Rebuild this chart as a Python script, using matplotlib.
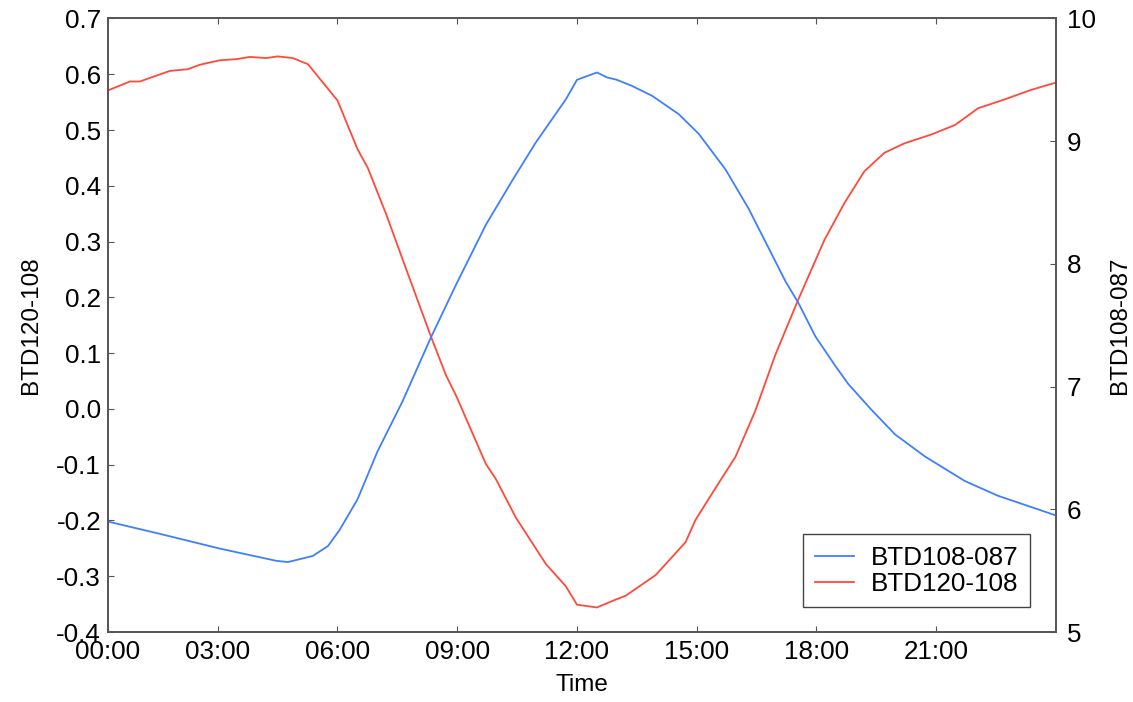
import matplotlib
matplotlib.use("Agg")
import matplotlib.pyplot as plt
import numpy as np

plt.rcParams['font.family'] = ['Liberation Sans', 'DejaVu Sans']

# BTD108-087 (right axis): time in hours since midnight, value
hours_blue = [0.25, 1.55, 3.05, 4.47, 4.76, 5.38, 5.76, 6.05, 6.5, 7.0, 7.63,
              8.34, 8.97, 9.72, 10.38, 10.97, 11.72, 12.0, 12.5, 12.75, 13.0,
              13.38, 13.88, 14.55, 15.05, 15.72, 16.3, 16.8, 17.22, 17.55,
              17.97, 18.47, 18.8, 19.38, 19.97, 20.72, 21.72, 22.55, 24.0]
btd108_087 = [5.90, 5.80, 5.68, 5.58, 5.57, 5.62, 5.70, 5.83, 6.08, 6.47, 6.88,
              7.40, 7.83, 8.32, 8.68, 8.99, 9.34, 9.50, 9.56, 9.52, 9.50,
              9.45, 9.37, 9.22, 9.06, 8.77, 8.45, 8.13, 7.86, 7.68,
              7.41, 7.17, 7.02, 6.81, 6.61, 6.43, 6.23, 6.11, 5.95]

# BTD120-108 (left axis)
hours_red = [0.25, 0.8, 1.05, 1.8, 2.25, 2.55, 3.05, 3.47, 3.8, 4.22, 4.5,
             4.88, 5.26, 6.0, 6.5, 6.76, 7.22, 7.76, 8.34, 8.72, 8.97, 9.72,
             9.97, 10.47, 11.22, 11.72, 12.0, 12.5, 13.0, 13.22, 13.97, 14.72,
             14.97, 15.47, 15.97, 16.47, 16.97, 17.55, 18.2, 18.7, 19.2, 19.7,
             20.2, 20.88, 21.47, 22.05, 22.72, 23.38, 24.0]
btd120_108 = [0.571, 0.587, 0.587, 0.606, 0.609, 0.617, 0.625, 0.627, 0.631,
              0.629, 0.632, 0.629, 0.618, 0.553, 0.466, 0.432, 0.349, 0.243,
              0.130, 0.060, 0.024, -0.099, -0.126, -0.195, -0.278, -0.318,
              -0.351, -0.356, -0.341, -0.335, -0.298, -0.239, -0.199, -0.142,
              -0.086, -0.003, 0.097, 0.197, 0.303, 0.369, 0.426, 0.459, 0.476,
              0.492, 0.509, 0.539, 0.555, 0.572, 0.585]

tick_hours = [0.25, 3, 6, 9, 12, 15, 18, 21]
tick_labels = ['00:00', '03:00', '06:00', '09:00', '12:00', '15:00', '18:00', '21:00']
left_ticks = [-0.4, -0.3, -0.2, -0.1, 0.0, 0.1, 0.2, 0.3, 0.4, 0.5, 0.6, 0.7]
right_ticks = [5, 6, 7, 8, 9, 10]

blue = '#3f7fff'
red = '#ff4a3a'
spine = '#555555'

fig = plt.figure(figsize=(11.33, 7.02), dpi=100)
ax = fig.add_axes([0.0953, 0.0997, 0.8367, 0.874])
ax2 = ax.twinx()

l2, = ax2.plot(hours_blue, btd108_087, color=blue, lw=1.3)
l1, = ax.plot(hours_red, btd120_108, color=red, lw=1.3)

ax.set_xlim(0.25, 24)
ax.set_ylim(-0.4, 0.7)
ax2.set_ylim(5, 10)
ax.set_yticks(left_ticks)
ax.set_yticklabels(['%.1f' % v for v in left_ticks])
ax2.set_yticks(right_ticks)
ax.set_xticks(tick_hours)
ax.set_xticklabels(tick_labels)

ax.tick_params(axis='both', direction='in', length=4, color=spine,
               labelsize=18.7, top=True, right=False)
ax.tick_params(axis='y', pad=5)
ax.tick_params(axis='x', pad=6)
ax2.tick_params(axis='y', direction='in', length=4, color=spine,
                labelsize=18.7, pad=8)
for a in (ax, ax2):
    for s in a.spines.values():
        s.set_color(spine)
        s.set_linewidth(1.2)

ax.set_xlabel('Time', fontsize=17.5, labelpad=7)
ax.set_ylabel('BTD120-108', fontsize=17.5, labelpad=10)
ax2.set_ylabel('BTD108-087', fontsize=17.5, labelpad=9)

leg = ax.legend([l2, l1], ['BTD108-087', 'BTD120-108'], loc='lower right',
                bbox_to_anchor=(0.9726, 0.040), borderaxespad=0,
                fontsize=18.7, fancybox=False, framealpha=1,
                edgecolor='#444444', handlelength=1.5, handletextpad=0.65,
                borderpad=0.45, labelspacing=0.08)
leg.get_frame().set_linewidth(1.0)

fig.savefig('out.png', dpi=100)
